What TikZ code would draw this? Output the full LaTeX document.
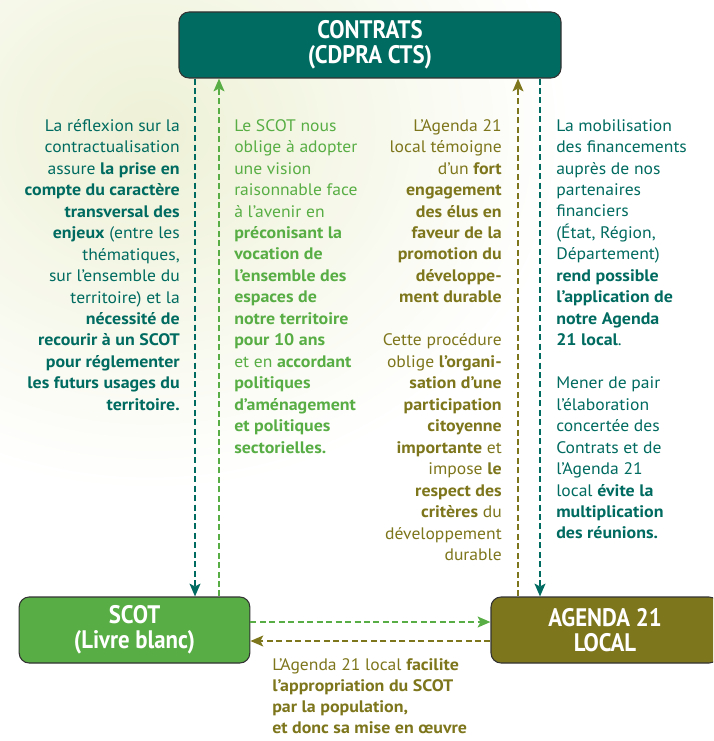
\documentclass[tikz,border=0pt]{standalone}
\usepackage{fontspec}
\setmainfont{PT Sans}[FakeStretch=1.055, BoldFeatures={FakeStretch=1.075}]
\newfontfamily\titrefont{PT Sans}[FakeStretch=0.9, BoldFeatures={FakeStretch=0.9}]
\usetikzlibrary{arrows.meta,calc}

\definecolor{vertfonce}{RGB}{0,107,96}
\definecolor{vertclair}{RGB}{88,174,68}
\definecolor{kaki}{RGB}{126,118,28}
\definecolor{fondpale}{RGB}{238,241,214}

\tikzset{
  boite/.style={draw=black!80, line width=0.8pt, rounded corners=7.5pt,
    minimum height=49.5pt, inner sep=0pt, text=white, align=center,
    font=\titrefont\bfseries\fontsize{19}{18.75}\selectfont},
  texte/.style={inner sep=0pt, font=\fontsize{12.5}{16.1}\selectfont},
  fleche/.style={line width=1.9pt, dash pattern=on 4.5pt off 2.6pt,
    -{Stealth[length=9.5pt,width=8pt,inset=2pt]}}
}
\def\drawfleche{\draw[fleche]}

\begin{document}
\begin{tikzpicture}[x=0.75pt,y=-0.75pt]
\useasboundingbox (0,0) rectangle (713,741);
\clip (0,0) rectangle (713,741);
\fill[white] (0,0) rectangle (713,741);
\shade[inner color=fondpale, outer color=white] (150,130) ellipse (420 and 360);

% the three boxes
\node[boite, fill=vertfonce, minimum width=286.5pt] (contrats) at (370,45) {CONTRATS\\(CDPRA CTS)};
\node[boite, fill=vertclair, minimum width=173pt] (scot) at (134.5,630) {SCOT\\(Livre blanc)};
\node[boite, fill=kaki, minimum width=171pt] (agenda) at (605,630) {AGENDA 21\\LOCAL};

% columns and rows of the dashed links
\coordinate (c1) at (195,0);
\coordinate (c2) at (219,0);
\coordinate (c3) at (518,0);
\coordinate (c4) at (540,0);
\coordinate (h1) at (0,622);
\coordinate (h2) at (0,641);

\drawfleche[vertfonce] (contrats.south -| c1) -- (scot.north -| c1);
\drawfleche[vertclair] (scot.north -| c2) -- (contrats.south -| c2);
\drawfleche[kaki] (agenda.north -| c3) -- (contrats.south -| c3);
\drawfleche[vertfonce] (contrats.south -| c4) -- (agenda.north -| c4);
\drawfleche[vertclair] (scot.east |- h1) -- (agenda.west |- h1);
\drawfleche[kaki] (agenda.west |- h2) -- (scot.east |- h2);

% texts
\node[texte, text=vertfonce, align=right, anchor=north east] (reflexion) at (180,119)
  {La réflexion sur la\\contractualisation\\assure \textbf{la prise en}\\
   \textbf{compte du caractère}\\\textbf{transversal des}\\\textbf{enjeux} (entre les\\
   thématiques,\\sur l’ensemble du\\territoire) et la\\\textbf{nécessité de}\\
   \textbf{recourir à un SCOT}\\\textbf{pour réglementer}\\\textbf{les futurs usages du}\\
   \textbf{territoire.}};
\node[texte, text=vertclair, align=left, anchor=north west] (vision) at (234,119)
  {Le SCOT nous\\oblige à adopter\\une vision\\raisonnable face\\à l’avenir en\\
   \textbf{préconisant la}\\\textbf{vocation de}\\\textbf{l’ensemble des}\\
   \textbf{espaces de}\\\textbf{notre territoire}\\\textbf{pour 10 ans}\\
   et en \textbf{accordant}\\\textbf{politiques}\\\textbf{d’aménagement}\\
   \textbf{et politiques}\\\textbf{sectorielles.}};
\node[texte, text=kaki, align=right, anchor=north east] (engagement) at (502,119)
  {L’Agenda 21\\local témoigne\\d’un \textbf{fort}\\\textbf{engagement}\\
   \textbf{des élus en}\\\textbf{faveur de la}\\\textbf{promotion du}\\
   \textbf{développe-}\\\textbf{ment durable}\\[16.1pt]
   Cette procédure\\oblige \textbf{l’organi-}\\\textbf{sation d’une}\\
   \textbf{participation}\\\textbf{citoyenne}\\\textbf{importante} et\\
   impose \textbf{le}\\\textbf{respect des}\\\textbf{critères} du\\
   développement\\durable};
\node[texte, text=vertfonce, align=left, anchor=north west] (financement) at (556,119)
  {La mobilisation\\des financements\\auprès de nos\\partenaires\\financiers\\
   (État, Région,\\Département)\\\textbf{rend possible}\\\textbf{l’application de}\\
   \textbf{notre Agenda}\\\textbf{21 local}.\\[16.1pt]
   Mener de pair\\l’élaboration\\concertée des\\Contrats et de\\l’Agenda 21\\
   local \textbf{évite la}\\\textbf{multiplication}\\\textbf{des réunions.}};
\node[texte, text=kaki, align=left, anchor=north west, font=\fontsize{12.5}{15.9}\selectfont] (appropriation) at (272,658)
  {L’Agenda 21 local \textbf{facilite}\\\textbf{l’appropriation du SCOT}\\
   \textbf{par la population,}\\\textbf{et donc sa mise en œuvre}};
\end{tikzpicture}
\end{document}
